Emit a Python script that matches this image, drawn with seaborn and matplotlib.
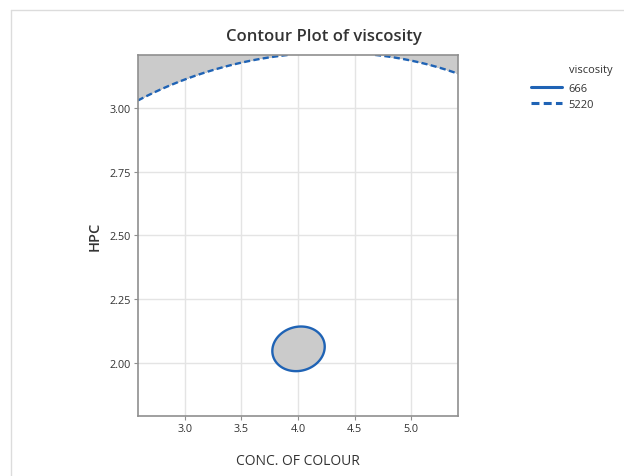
import numpy as np
import matplotlib
matplotlib.use("Agg")
import matplotlib.pyplot as plt
from matplotlib.lines import Line2D
import seaborn as sns

# === Data: fitted response surface for viscosity (centred quadratic) ===
center = [4.005, 2.056]             # CONC. OF COLOUR, HPC at the minimum
coef_const = 640.0
coef_sq = [490.0, 3435.0]           # dx^2, dy^2
coef_cross = -250.0                 # dx*dy
levels = [666, 5220]
level_labels = ["666", "5220"]
x_range = [2.586, 5.414]
y_range = [1.793, 3.207]
x_ticks = [3.0, 3.5, 4.0, 4.5, 5.0]
y_ticks = [2.00, 2.25, 2.50, 2.75, 3.00]

# === Grid ===
xs = np.linspace(x_range[0], x_range[1], 400)
ys = np.linspace(y_range[0], y_range[1], 400)
X, Y = np.meshgrid(xs, ys)
dx = X - center[0]
dy = Y - center[1]
Z = coef_const + coef_sq[0] * dx**2 + coef_sq[1] * dy**2 + coef_cross * dx * dy

# === Plot ===
sns.set_style("whitegrid")
plt.rcParams["font.family"] = ["Open Sans", "DejaVu Sans"]

blue = "#1f63b5"
dash = (0, (2.6, 1.4))
fig = plt.figure(figsize=(6.24, 4.77), dpi=100)
ax = fig.add_axes([0.221, 0.1258, 0.513, 0.757])

ax.set_axisbelow(True)
ax.grid(True, color="#e4e4e4", linewidth=1.0, zorder=0)
ax.contourf(X, Y, Z, levels=[Z.min() - 1, levels[0], levels[1], Z.max() + 1],
            colors=["#cbcbcb", "none", "#cbcbcb"], zorder=2)
ax.contour(X, Y, Z, levels=levels, colors=blue, linewidths=1.7,
           linestyles=["solid", dash], zorder=3)

ax.set_xlim(x_range)
ax.set_ylim(y_range)
ax.set_xticks(x_ticks)
ax.set_yticks(y_ticks)
ax.set_xticklabels([f"{t:.1f}" for t in x_ticks])
ax.set_yticklabels([f"{t:.2f}" for t in y_ticks])
for sp in ax.spines.values():
    sp.set_color("#8f8f8f")
    sp.set_linewidth(1.2)
    sp.set_zorder(4)
ax.tick_params(axis="both", labelsize=7.8, colors="#8f8f8f", labelcolor="#333333",
               length=3, width=0.8, direction="out", pad=2, bottom=True, left=True)

ax.set_xlabel("CONC. OF COLOUR", fontsize=10, color="#333333", labelpad=14)
ax.set_ylabel("HPC", fontsize=10.5, color="#333333", labelpad=6, fontweight="semibold")
fig.text(0.519, 0.922, "Contour Plot of viscosity", ha="center", va="center",
         fontsize=12, color="#333333", fontweight="semibold")

# legend
handles = [Line2D([], [], color=blue, lw=2.2, ls="solid"),
           Line2D([], [], color=blue, lw=2.2, ls=dash)]
leg = fig.legend(handles, level_labels, loc="upper left",
                 bbox_to_anchor=(531 / 624, 1 - 84 / 477), frameon=False, fontsize=8,
                 handlelength=2.8, handletextpad=0.6, borderpad=0,
                 labelspacing=0.45, borderaxespad=0)
for t in leg.get_texts():
    t.set_color("#333333")
fig.text(569 / 624, 1 - 71 / 477, "viscosity", ha="left", va="center",
         fontsize=8, color="#333333")

# outer frame lines
fig.add_artist(Line2D([11 / 624, 11 / 624], [0, 1 - 10.5 / 477], color="#dcdcdc", lw=1.0))
fig.add_artist(Line2D([11 / 624, 1], [1 - 10.5 / 477, 1 - 10.5 / 477], color="#dcdcdc", lw=1.0))

plt.savefig("out.png", dpi=100)
plt.close()
